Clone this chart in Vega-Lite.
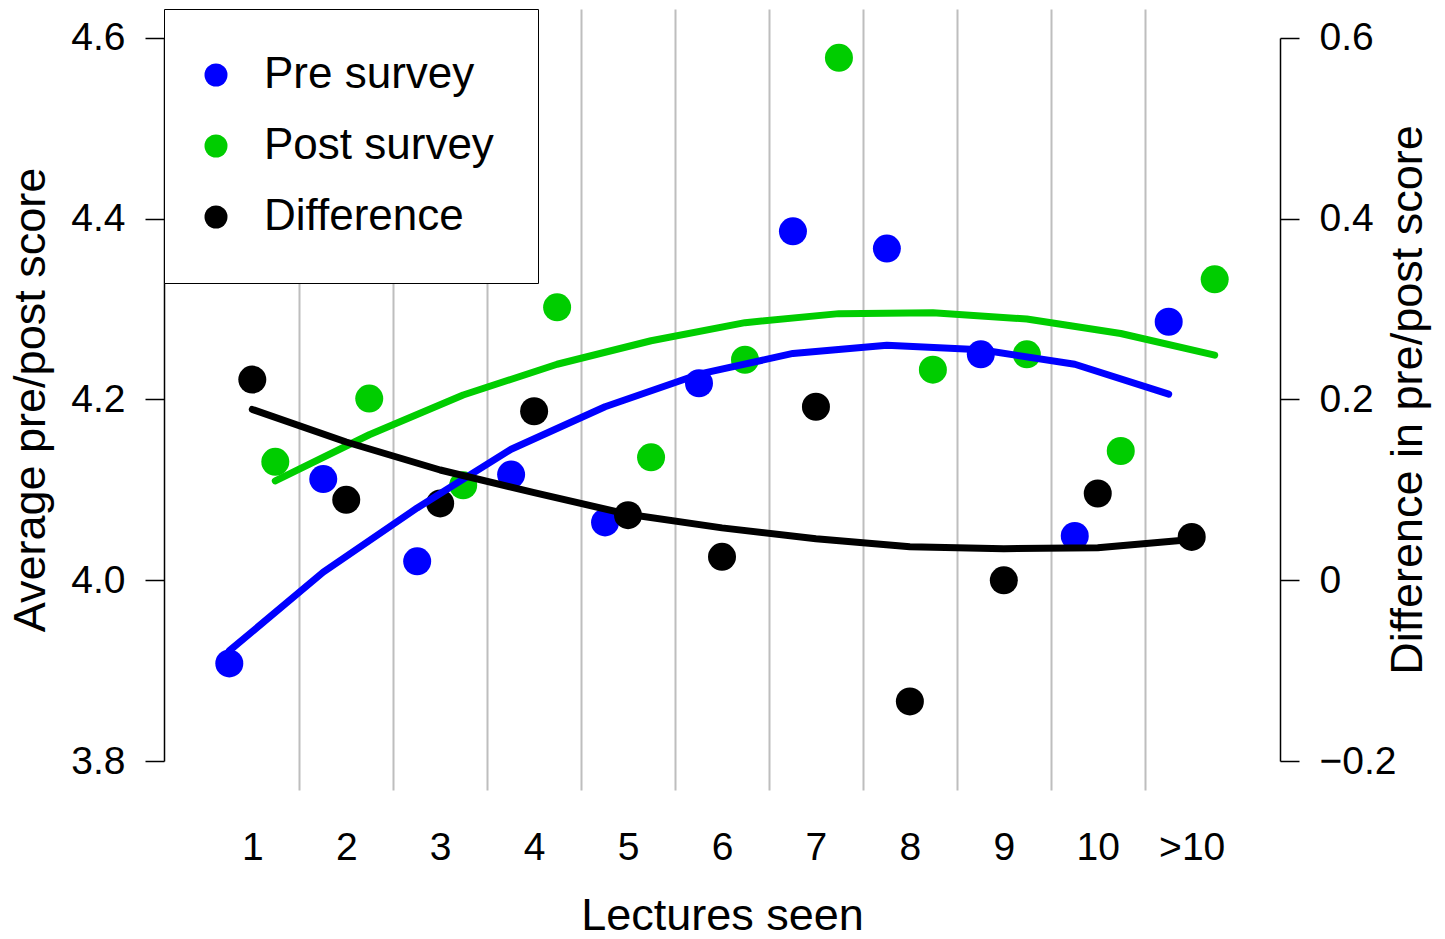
{
  "$schema": "https://vega.github.io/schema/vega-lite/v6.json",
  "width": 1116,
  "height": 781,
  "autosize": {"type": "none"},
  "padding": {"left": 164, "top": 9, "right": 165, "bottom": 149},
  "background": "white",
  "data": {
    "values": [
      {"lecture": 1, "series": "Pre survey", "value": 3.908, "fitted": 3.922},
      {"lecture": 2, "series": "Pre survey", "value": 4.112, "fitted": 4.009},
      {"lecture": 3, "series": "Pre survey", "value": 4.021, "fitted": 4.080},
      {"lecture": 4, "series": "Pre survey", "value": 4.117, "fitted": 4.145},
      {"lecture": 5, "series": "Pre survey", "value": 4.064, "fitted": 4.192},
      {"lecture": 6, "series": "Pre survey", "value": 4.218, "fitted": 4.228},
      {"lecture": 7, "series": "Pre survey", "value": 4.386, "fitted": 4.251},
      {"lecture": 8, "series": "Pre survey", "value": 4.367, "fitted": 4.260},
      {"lecture": 9, "series": "Pre survey", "value": 4.250, "fitted": 4.255},
      {"lecture": 10, "series": "Pre survey", "value": 4.049, "fitted": 4.239},
      {"lecture": 11, "series": "Pre survey", "value": 4.286, "fitted": 4.206},
      {"lecture": 1, "series": "Post survey", "value": 4.131, "fitted": 4.110},
      {"lecture": 2, "series": "Post survey", "value": 4.201, "fitted": 4.161},
      {"lecture": 3, "series": "Post survey", "value": 4.105, "fitted": 4.205},
      {"lecture": 4, "series": "Post survey", "value": 4.302, "fitted": 4.239},
      {"lecture": 5, "series": "Post survey", "value": 4.136, "fitted": 4.265},
      {"lecture": 6, "series": "Post survey", "value": 4.244, "fitted": 4.285},
      {"lecture": 7, "series": "Post survey", "value": 4.578, "fitted": 4.295},
      {"lecture": 8, "series": "Post survey", "value": 4.233, "fitted": 4.296},
      {"lecture": 9, "series": "Post survey", "value": 4.250, "fitted": 4.289},
      {"lecture": 10, "series": "Post survey", "value": 4.143, "fitted": 4.273},
      {"lecture": 11, "series": "Post survey", "value": 4.333, "fitted": 4.249},
      {"lecture": 1, "series": "Difference", "value": 0.222, "fitted": 0.189},
      {"lecture": 2, "series": "Difference", "value": 0.089, "fitted": 0.153},
      {"lecture": 3, "series": "Difference", "value": 0.085, "fitted": 0.122},
      {"lecture": 4, "series": "Difference", "value": 0.187, "fitted": 0.097},
      {"lecture": 5, "series": "Difference", "value": 0.072, "fitted": 0.073},
      {"lecture": 6, "series": "Difference", "value": 0.026, "fitted": 0.058},
      {"lecture": 7, "series": "Difference", "value": 0.192, "fitted": 0.046},
      {"lecture": 8, "series": "Difference", "value": -0.134, "fitted": 0.037},
      {"lecture": 9, "series": "Difference", "value": 0.0, "fitted": 0.035},
      {"lecture": 10, "series": "Difference", "value": 0.096, "fitted": 0.036},
      {"lecture": 11, "series": "Difference", "value": 0.048, "fitted": 0.045}
    ]
  },
  "encoding": {
    "x": {
      "field": "lecture",
      "type": "quantitative",
      "scale": {"domain": [0.06, 11.94], "nice": false, "zero": false},
      "axis": {
        "title": "Lectures seen",
        "values": [1, 1.5, 2, 2.5, 3, 3.5, 4, 4.5, 5, 5.5, 6, 6.5, 7, 7.5, 8, 8.5, 9, 9.5, 10, 10.5, 11],
        "labelExpr": "datum.value % 1 != 0 ? '' : (datum.value == 11 ? '>10' : format(datum.value, 'd'))",
        "grid": true,
        "gridColor": "#bebebe",
        "gridWidth": 2,
        "gridOpacity": {"condition": {"test": "datum.value % 1 == 0", "value": 0}, "value": 1},
        "domain": false,
        "ticks": false,
        "labelPadding": 57,
        "labelBaseline": "middle",
        "labelFontSize": 39,
        "labelColor": "black",
        "labelFlush": false,
        "labelOverlap": false,
        "labelBound": false,
        "titleFontSize": 45,
        "titleFontWeight": "normal",
        "titleColor": "black",
        "titleY": 125,
        "titleBaseline": "middle"
      }
    }
  },
  "layer": [
    {
      "transform": [{"filter": "datum.series == 'Pre survey'"}],
      "mark": {"type": "circle", "size": 784, "opacity": 1, "xOffset": -23},
      "encoding": {
        "y": {
          "field": "value",
          "type": "quantitative",
          "scale": {"domain": [3.768, 4.632], "nice": false, "zero": false},
          "axis": {
            "orient": "left",
            "title": "Average pre/post score",
            "values": [3.8, 4.0, 4.2, 4.4, 4.6],
            "format": ".1f",
            "grid": false,
            "domainColor": "black",
            "domainWidth": 1.5,
            "domainDash": [723, 58],
            "domainDashOffset": 752,
            "tickColor": "black",
            "tickWidth": 1.5,
            "tickSize": 19,
            "labelPadding": 20,
            "labelFontSize": 39,
            "labelColor": "black",
            "labelFlush": false,
            "titleFontSize": 45,
            "titleFontWeight": "normal",
            "titleColor": "black",
            "titleAngle": 270,
            "titleX": -134,
            "titleBaseline": "middle"
          }
        },
        "color": {
          "field": "series",
          "type": "nominal",
          "scale": {"domain": ["Pre survey", "Post survey", "Difference"], "range": ["#0000ff", "#00cd00", "#000000"]},
          "legend": {"title": null}
        }
      }
    },
    {
      "transform": [{"filter": "datum.series == 'Post survey'"}],
      "mark": {"type": "circle", "size": 784, "opacity": 1, "xOffset": 23},
      "encoding": {
        "y": {
          "field": "value",
          "type": "quantitative",
          "scale": {"domain": [3.768, 4.632], "nice": false, "zero": false},
          "axis": null
        },
        "color": {"field": "series", "type": "nominal"}
      }
    },
    {
      "transform": [{"filter": "datum.series == 'Difference'"}],
      "mark": {"type": "circle", "size": 784, "opacity": 1},
      "encoding": {
        "y": {
          "field": "value",
          "type": "quantitative",
          "scale": {"domain": [-0.232, 0.632], "nice": false, "zero": false},
          "axis": {
            "orient": "right",
            "title": "Difference in pre/post score",
            "values": [-0.2, 0, 0.2, 0.4, 0.6],
            "labelExpr": "datum.value == 0 ? '0' : replace(format(datum.value, '.1f'), '-', '\u2212')",
            "grid": false,
            "domainColor": "black",
            "domainWidth": 1.5,
            "domainDash": [723, 58],
            "domainDashOffset": 752,
            "tickColor": "black",
            "tickWidth": 1.5,
            "tickSize": 19,
            "labelPadding": 20,
            "labelFontSize": 39,
            "labelColor": "black",
            "labelFlush": false,
            "titleFontSize": 45,
            "titleFontWeight": "normal",
            "titleColor": "black",
            "titleAngle": 270,
            "titleX": 127,
            "titleBaseline": "middle"
          }
        },
        "color": {"field": "series", "type": "nominal"}
      }
    },
    {
      "transform": [{"filter": "datum.series == 'Pre survey'"}],
      "mark": {"type": "line", "color": "#0000ff", "strokeWidth": 7, "strokeCap": "round", "strokeJoin": "round", "xOffset": -23},
      "encoding": {
        "y": {
          "field": "fitted",
          "type": "quantitative",
          "scale": {"domain": [3.768, 4.632], "nice": false, "zero": false},
          "axis": null
        }
      }
    },
    {
      "transform": [{"filter": "datum.series == 'Post survey'"}],
      "mark": {"type": "line", "color": "#00cd00", "strokeWidth": 7, "strokeCap": "round", "strokeJoin": "round", "xOffset": 23},
      "encoding": {
        "y": {
          "field": "fitted",
          "type": "quantitative",
          "scale": {"domain": [3.768, 4.632], "nice": false, "zero": false},
          "axis": null
        }
      }
    },
    {
      "transform": [{"filter": "datum.series == 'Difference'"}],
      "mark": {"type": "line", "color": "#000000", "strokeWidth": 7, "strokeCap": "round", "strokeJoin": "round"},
      "encoding": {
        "y": {
          "field": "fitted",
          "type": "quantitative",
          "scale": {"domain": [-0.232, 0.632], "nice": false, "zero": false},
          "axis": null
        }
      }
    }
  ],
  "resolve": {"scale": {"y": "independent"}},
  "config": {
    "font": "Liberation Sans",
    "view": {"stroke": null},
    "legend": {
      "orient": "top-left",
      "offset": 0,
      "padding": 44,
      "rowPadding": 27,
      "symbolType": "circle",
      "symbolSize": 529,
      "symbolOpacity": 1,
      "symbolStrokeWidth": 0,
      "symbolOffset": -14,
      "labelFontSize": 44,
      "labelOffset": 26,
      "labelColor": "black",
      "labelLimit": 0,
      "fillColor": "white",
      "strokeColor": "black"
    }
  }
}
